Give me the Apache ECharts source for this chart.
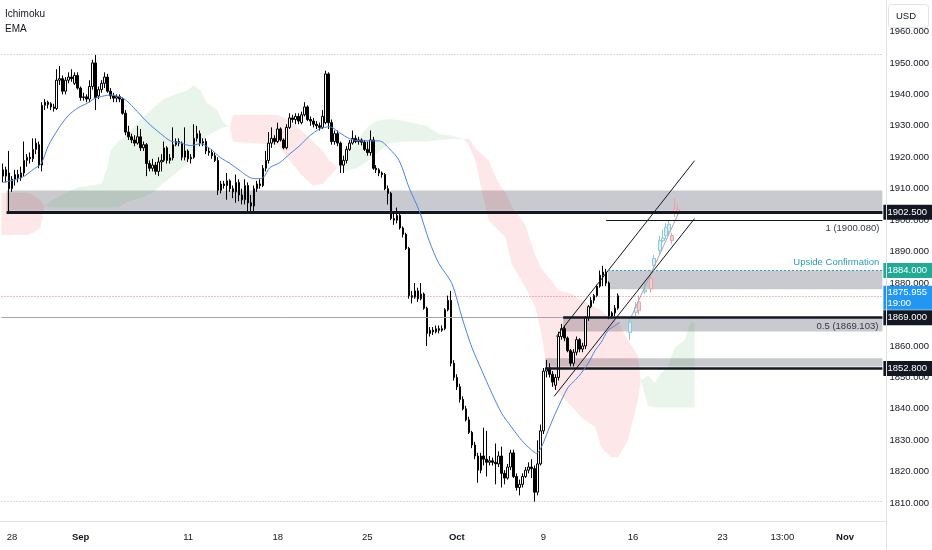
<!DOCTYPE html>
<html><head><meta charset="utf-8">
<script src="https://cdn.jsdelivr.net/npm/echarts@6/dist/echarts.min.js"></script>
<style>html,body{margin:0;padding:0;background:#fff}#c{width:932px;height:550px}</style>
</head><body><div id="c"></div>
<script>
// ---------- DATA ----------
const SLOT_COUNT = 295; // 4H bars visible across the time axis
const xLabelSlots = [3, 26, 62, 92, 122, 152, 181, 211, 241, 261, 282];
const xLabelTexts = ['28', 'Sep', '11', '18', '25', 'Oct', '9', '16', '23', '13:00', 'Nov'];
const monthLabels = ['Sep', 'Oct', 'Nov'];

// candles: [open, close, low, high]
const candles = [
[1914,1916,1912,1918],[1916,1914,1912,1917],[1915,1910,1902.4,1922],[1910,1913,1909,1914],[1913,1914.5,1911,1916],
[1914.5,1913.5,1912,1916],[1913.5,1915,1912.5,1917],[1915,1919,1914,1925],[1919,1920,1917,1921],[1920,1919.5,1918,1921.5],
[1919.5,1922.5,1918.5,1926],[1922.5,1924.5,1921,1926],[1924,1917.5,1916.5,1925],[1917.5,1936.5,1915.5,1937.5],[1936.5,1937.5,1935,1938.5],
[1937.5,1936.8,1935.5,1938],[1937,1936,1935,1937.5],[1936,1935.5,1934.5,1937],[1935.5,1944.5,1935,1948],[1944.5,1945,1943,1949],
[1945,1941,1940,1946],[1941,1944.5,1940,1945.5],[1944.5,1945.5,1943.5,1947],[1945.5,1945,1944,1948],[1943.5,1946,1943,1947],
[1946,1942,1941.5,1947],[1942,1939,1938,1942.5],[1939,1939.2,1938,1940.5],[1939.2,1938.5,1937.5,1940],[1938.5,1942.5,1937.5,1944.5],
[1942.5,1950,1941.5,1951],[1950,1939,1935,1952.5],[1939.5,1941.5,1938.5,1942.5],[1941.5,1943.5,1940.5,1944.5],[1943.5,1945.5,1942,1947],
[1945.5,1941,1940.5,1946.5],[1941,1939.5,1938.5,1942],[1939.5,1938.8,1937.5,1940.5],[1938.8,1939.3,1937.5,1940],[1939.3,1938.5,1937.5,1940],
[1938.5,1934,1933.5,1939],[1934,1928,1927,1935],[1928,1926.5,1925.5,1930],[1926.5,1925.5,1924.5,1927.5],[1925.5,1924.5,1923.5,1927],
[1924.5,1926.5,1924,1930],[1926.5,1923,1922,1929],[1923,1924,1922,1925],[1924,1918,1914,1924.5],[1918,1916.5,1915.5,1919],
[1916.5,1917.5,1915.5,1919.5],[1917.5,1915.5,1914.5,1918.5],[1915.5,1918.5,1914,1920],[1918.5,1919,1915.5,1921],[1919,1923,1918.5,1925],
[1923,1919,1918,1923.5],[1919,1919.8,1918,1921],[1919.8,1924,1919,1929.5],[1924,1925,1923.5,1926],[1925,1924.5,1923.5,1926],
[1924.5,1920,1919,1925],[1920,1922,1919,1929.5],[1922,1919.5,1918.5,1922.5],[1919.5,1920,1918,1921],[1920,1926,1919.5,1930.5],
[1926,1927.5,1925,1930],[1927.5,1924.5,1923.5,1928.5],[1924.5,1925,1923.5,1926],[1925,1922,1921,1926],[1922,1921.5,1920.5,1923],
[1921.5,1920.5,1919.5,1922.5],[1920.5,1919,1918.5,1921.5],[1919,1909.5,1908,1920],[1909.5,1911.5,1908.5,1912.5],[1911.5,1911,1910,1912.5],
[1911,1912.5,1906.5,1915],[1912.5,1910,1909,1913],[1910,1909,1907,1911],[1909,1912,1905.5,1914.5],[1912,1908,1906,1913],
[1908,1906.5,1905,1910],[1906.5,1911,1905,1913],[1911,1905.5,1902.5,1912],[1905.5,1904.5,1902.3,1908],[1904.5,1910,1902.5,1911],
[1910,1911.5,1909,1912.5],[1911.5,1911,1910,1913],[1911,1916.5,1910.5,1917.5],[1916.5,1919,1915.5,1922],[1919,1924.5,1918,1928],
[1924.5,1926,1923,1929.5],[1926,1925,1924,1927],[1925,1929,1924.5,1931],[1929,1925.5,1925,1929.5],[1925.5,1923,1922.5,1926],
[1923,1929.5,1922.5,1930.5],[1929.5,1932.5,1929,1934],[1932.5,1932,1931,1933.5],[1932,1933,1930.5,1934],[1933,1931.5,1930.5,1934],
[1931,1933.5,1930.5,1934.5],[1933.5,1936,1933,1937.5],[1936,1932,1931.5,1936.5],[1932,1931.5,1930,1933],[1931.5,1930.5,1929.5,1932.5],
[1930.5,1930,1929,1931.5],[1930,1929.5,1928.5,1931],[1929.5,1933,1929,1935],[1931,1946.5,1930.5,1947.5],[1946.5,1931,1929,1947],
[1931,1925,1924,1932],[1925,1927.5,1924,1928.5],[1927.5,1924.5,1923.5,1928.5],[1924.5,1917.5,1915,1925],[1917.5,1919,1915,1920.5],
[1919,1922.5,1918,1923.5],[1922.5,1924.5,1922,1925.5],[1924.5,1926,1924,1928.5],[1926,1925,1924.5,1927],[1925,1925.5,1924,1926.5],
[1925.5,1924.8,1923.8,1926],[1924.8,1922.5,1922,1925.5],[1922.5,1921.5,1920.5,1925],[1921.5,1925.5,1920.5,1928.5],[1925.5,1916.5,1916,1926.5],
[1916.5,1916,1915,1917.5],[1916,1915,1914,1916.5],[1915,1914.5,1913.5,1915.5],[1914.5,1910,1909.5,1915],[1910,1908.5,1905,1911],
[1908.5,1900.5,1900,1909],[1900.5,1900,1898.5,1902.5],[1900,1901.5,1899,1904],[1901.5,1897.5,1897,1902],[1897.5,1895.5,1894.5,1898],
[1895.5,1891,1890.5,1896],[1891,1876,1875,1891.5],[1876,1875.5,1873.5,1877.5],[1875.5,1877.5,1875,1880],[1877.5,1875,1874,1878.5],
[1875,1876.5,1874.5,1880],[1876.5,1872,1871.5,1877],[1872,1864,1860,1872.5],[1864,1865,1863,1866],[1865,1864.5,1863.5,1866],
[1864.5,1865.5,1864,1866.5],[1865.5,1865,1864,1866.5],[1865,1865.5,1864.5,1866.5],[1865.5,1871.5,1865,1872],[1871.5,1874.5,1871,1876],
[1874.5,1854.5,1853.5,1877.5],[1854.5,1850,1849,1855.5],[1850,1847,1846,1851],[1847,1843,1842,1848],[1843,1840,1839.5,1844],
[1840,1836.5,1836,1841],[1836.5,1832.5,1832,1837.5],[1832.5,1828.5,1827.5,1833],[1828.5,1825,1824,1829.5],[1825,1820.5,1816.5,1826],
[1820.5,1825,1819.5,1826],[1825,1824,1822,1834],[1824,1823,1818.5,1833],[1823,1823.5,1822,1825],[1823.5,1823,1822,1824.5],
[1823,1822.5,1816,1829],[1822.5,1825,1821.5,1826.5],[1825,1819.5,1815,1828],[1819.5,1818,1816,1820.5],[1818,1821.5,1817.5,1822.5],
[1821.5,1826,1820.5,1827],[1826,1818.5,1818,1827],[1818.5,1815,1814,1819.5],[1815,1816,1812.5,1817.5],[1816,1818.5,1815,1819.5],
[1818.5,1820.5,1818,1821.5],[1820.5,1821.5,1819.5,1823],[1821.5,1821,1818,1824],[1821,1813.5,1810.5,1822],[1813.5,1822.5,1812.5,1830],
[1822.5,1833,1822,1835],[1833,1852,1832,1853],[1852,1853,1850,1855.5],[1853,1851,1850,1854.5],[1851,1848.5,1847,1852],
[1847.5,1850,1846,1851],[1850,1863,1849,1864.5],[1863,1865.5,1862,1867],[1865.5,1862.5,1861.5,1866.5],[1862.5,1858.5,1858,1863],
[1858.5,1854.5,1853.5,1859],[1854.5,1858,1853.5,1859],[1858,1862,1857,1863],[1862,1859,1858,1862.5],[1859,1860,1858,1861],
[1860,1869,1859,1869.5],[1869,1872.5,1868,1873],[1872.5,1874.5,1872,1875.5],[1874.5,1876,1873.5,1876.5],[1876,1879,1875.5,1879.5],
[1879,1882.5,1878.5,1884],[1882.5,1883.5,1879,1885.5],[1883.5,1880,1879,1884.5],[1880,1869.5,1868.5,1880.5],[1869.5,1870.5,1868.8,1871],
[1870.5,1872,1869.5,1873],[1872,1875.955,1871.5,1876.7]
];

// faint projected bars (bars pattern)
const ghostSlots = [210, 212, 213, 215, 217, 218, 220, 221, 222, 223, 224, 225, 226];
const ghostCandles = [
[1864.3,1867.5,1861.8,1869],[1870.7,1872.3,1869.5,1874],[1874,1871.3,1870,1876],[1877.2,1877.8,1876.5,1881],
[1881.4,1878.2,1877,1884],[1885.6,1887.8,1884,1889],[1890.3,1893.5,1889,1895],[1893.5,1894.3,1893,1897],
[1895,1897.7,1894,1899],[1896.5,1898.7,1895.5,1900],[1895.1,1893.5,1892.5,1896],[1903.5,1902.3,1901,1907],[1903.4,1902.5,1901.5,1905]
];

// EMA: slot, value
const emaSlots = [0,6.2,10.5,12.8,15.2,18.5,21.8,25.1,28.5,30.5,33.8,36.1,40.5,43.8,48.5,52.8,56.1,59.4,62.8,66.1,69.4,72.8,76.1,79.4,82.8,85.1,87.1,89.4,92.7,96.1,99.4,102.7,106.1,109.4,112.7,116.1,119.4,126,129.4,132.7,136,139.4,142.7,146,150.3,153.7,157,160.3,163.7,167,170.3,173.7,177,178.7,180.3,182.6,185,187,189.3,191.6,193.6,196,198.3,200.3,202.6,205,206.6];
const emaValues = [1912,1913.5,1916.4,1918,1923.7,1929,1933.2,1935.7,1937.3,1938.6,1939.5,1939.8,1938.6,1935.7,1931,1927.5,1925.2,1924.6,1923.7,1924.3,1922.7,1919.9,1918,1915.7,1913.5,1913.2,1913.5,1916.7,1918.3,1921.1,1923.7,1926.8,1929,1929.7,1927.8,1925.9,1925.2,1925.2,1922.7,1918.9,1910.3,1903,1893.5,1886.2,1879.9,1869.1,1859.6,1852.3,1845,1838.6,1834.2,1830,1826.9,1825.9,1827.8,1833.2,1838.6,1842.7,1846.9,1849.1,1851.3,1854.5,1858.6,1861.1,1864.9,1866.5,1867.5];

// Ichimoku cloud segments: [slot, upper, lower]
const cloudRed1 = [[-0.5,1908.7,1895.3],[8,1908.7,1895.3],[10,1908,1896],[12.5,1906.5,1897.5],[13.5,1905,1903],[14,1904.6,1904.6]];
const cloudGreen1 = [[14,1904.6,1904.6],[16,1906.2,1904],[20.5,1908.5,1904],[25,1910.4,1904],[33,1911.6,1904],[35,1917,1904],[36,1922,1904],[38.5,1925,1904],[42,1927.5,1906],[46,1932,1907],[50.5,1935.8,1909],[54,1938.7,1912],[61.8,1941.3,1918],[63.8,1942.8,1921],[66.1,1941.3,1924],[68.4,1937.2,1927],[71.8,1935,1928.5],[73.8,1931,1929.5],[76,1929.7,1929.7]];
const cloudRed2 = [[76,1929.7,1929.7],[77,1933.5,1925],[83,1933.5,1924.5],[92,1933.5,1924],[96,1931.6,1919],[99.4,1929,1915],[103.7,1925.2,1911],[107,1922.1,1911.5],[109.4,1918.9,1914],[112,1916.7,1916.7]];
const cloudGreen2 = [[112,1916.7,1916.7],[115,1921,1915.7],[118.4,1925.2,1916.5],[121.8,1929.3,1918.5],[125,1931.6,1921],[129.4,1932.2,1924.5],[134,1931.6,1925],[137,1931,1925],[141.7,1930,1925],[146,1927.5,1925.5],[150.4,1926.8,1925.8],[154.3,1925.8,1925.8]];
const cloudRed3 = [[154.3,1925.8,1925.8],[156,1925.9,1923.7],[158.3,1922.7,1918.9],[160.3,1921.1,1909.4],[162.7,1918.9,1899.9],[166,1911.6,1896.7],[168.3,1908.8,1894.5],[170.3,1904.6,1886.2],[172.7,1901.4,1882.4],[175,1898.3,1878.6],[178.3,1888.7,1872.3],[180.3,1884.6,1864],[181.6,1883,1856.4],[183.6,1880.8,1847.5],[186,1877.6,1845],[190.3,1876.7,1841.1],[193.6,1874.5,1837.3],[198.3,1872.3,1834.2],[200.3,1871.3,1827.8],[203.6,1868.8,1824.6],[206,1867.5,1824.6],[209.3,1861.8,1830],[212.6,1857,1842.7],[213.6,1849,1849]];
const cloudGreen3 = [[213.6,1849,1849],[216,1850.7,1841.1],[218.3,1848.2,1840.4],[220.3,1851.3,1840.4],[222.6,1853.2,1840.4],[225,1859.6,1840.4],[228.3,1861.8,1840.4],[230.3,1867.5,1840.4],[231.6,1867.5,1840.4]];

// gray supply / demand zones: start slot, top, bottom
const zoneStarts = [1.2, 202.6, 187.6, 181.6];
const zoneTops = [1909.4, 1884.0, 1869.0, 1856.1];
const zoneBottoms = [1903.0, 1878.0, 1864.6, 1853.5];

// key levels
const keyLevels = [1902.5, 1869.0, 1852.8];
const keyLevelStarts = [1.2, 187.6, 181.6];
const upsideLevel = 1884.0, upsideStart = 202.6, upsideText = 'Upside Confirmation';
const fibLevels = ['1', '0.5'];
const fibPrices = [1900.080, 1869.103];
const fibStart = 202.0;
const lastPrice = 1875.955, lastTime = '19:00';
const rangeHigh = 1952.8, rangeLow = 1810.7;

// channel (slot, price) endpoints
const channelUpper = [[185.3, 1863.0], [231.6, 1918.9]];
const channelLower = [[184.6, 1844.0], [231.6, 1900.5]];
const projectionPath = [[210.3, 1869.1], [226.6, 1903.0]];

// ---------- CHART ----------
const FONT = 'Liberation Sans';
const RED_CLOUD = 'rgba(242,54,69,0.12)';
const GREEN_CLOUD = 'rgba(76,175,80,0.12)';
const HIDDEN = 'rgba(0,0,0,0)';
const clouds = [
  {pts: cloudRed1, color: RED_CLOUD}, {pts: cloudGreen1, color: GREEN_CLOUD},
  {pts: cloudRed2, color: RED_CLOUD}, {pts: cloudGreen2, color: GREEN_CLOUD},
  {pts: cloudRed3, color: RED_CLOUD}, {pts: cloudGreen3, color: GREEN_CLOUD}
];
const categories = Array.from({length: SLOT_COUNT}, (_, i) => 's' + i);
const labelMap = {};
xLabelSlots.forEach((s, k) => labelMap[s] = xLabelTexts[k]);

const ghostData = Array.from({length: 227}, () => ['-', '-', '-', '-']);
ghostSlots.forEach((s, k) => ghostData[s] = ghostCandles[k]);

const XMAX = SLOT_COUNT - 0.5;
function seg(x0, x1, p, lineStyle, label) {
  return [{coord: [x0, p], lineStyle: lineStyle, label: label || {show: false}}, {coord: [x1, p]}];
}
function tag(p, text, bg, lines) {
  return {
    yAxis: p,
    lineStyle: {color: HIDDEN, width: 1, type: 'solid'},
    label: {show: true, position: 'end', distance: 1, formatter: text, backgroundColor: bg,
      color: '#fff', padding: lines ? [1, 5, 1, 4] : [2, 5, 2, 4], fontSize: 9.5, lineHeight: 11,
      fontFamily: FONT, offset: lines ? [0, 2] : [0, 0]}
  };
}

const mlData = [
  seg(-0.5, XMAX, rangeHigh, {color: '#b2b5be', width: 1, type: [1, 2]}),
  seg(-0.5, XMAX, rangeLow, {color: '#b2b5be', width: 1, type: [1, 2]}),
  seg(-0.5, keyLevelStarts[1], fibPrices[1], {color: '#a3a6af', width: 1, type: 'solid'}),
  seg(-0.5, XMAX, lastPrice, {color: 'rgba(242,54,69,0.7)', width: 1, type: [1, 2]}),
  seg(keyLevelStarts[0], XMAX, keyLevels[0], {color: '#131722', width: 3, type: 'solid'}),
  seg(keyLevelStarts[1], XMAX, keyLevels[1], {color: '#131722', width: 2.5, type: 'solid'}),
  seg(keyLevelStarts[2], XMAX, keyLevels[2], {color: '#131722', width: 2.5, type: 'solid'}),
  seg(upsideStart, XMAX, upsideLevel, {color: '#2a9bb5', width: 1, type: [2, 2]},
    {show: true, position: 'insideEndTop', distance: 3, formatter: upsideText, color: '#2a9bb5', fontSize: 9.5, fontFamily: FONT}),
  seg(fibStart, XMAX, fibPrices[0], {color: '#131722', width: 1, type: 'solid'},
    {show: true, position: 'insideEndBottom', distance: 3, formatter: fibLevels[0] + ' (' + fibPrices[0].toFixed(3) + ')', color: '#363a45', fontSize: 9.5, fontFamily: FONT}),
  seg(fibStart, XMAX, fibPrices[1], {color: HIDDEN, width: 1, type: 'solid'},
    {show: true, position: 'insideEndBottom', distance: 4, formatter: fibLevels[1] + ' (' + fibPrices[1].toFixed(3) + ')', color: '#363a45', fontSize: 9.5, fontFamily: FONT}),
  tag(keyLevels[0], keyLevels[0].toFixed(3), '#131722'),
  tag(upsideLevel, upsideLevel.toFixed(3), '#22ab94'),
  tag(keyLevels[2], keyLevels[2].toFixed(3), '#131722'),
  tag(lastPrice, lastPrice.toFixed(3) + '\n' + lastTime, '#2196f3', true),
  tag(keyLevels[1], keyLevels[1].toFixed(3), '#131722')
];

const chart = echarts.init(document.getElementById('c'), null, {renderer: 'canvas'});
chart.setOption({
  animation: false,
  backgroundColor: '#ffffff',
  grid: {left: 0, right: 46, top: -1.01, bottom: 15.34, containLabel: false},
  xAxis: [
    {type: 'category', data: categories, boundaryGap: true, offset: -13.66,
     axisLine: {show: false}, axisTick: {show: false}, splitLine: {show: false},
     axisLabel: {interval: 0, margin: 11, fontSize: 9.5, fontFamily: FONT, color: '#131722',
       formatter: (v, idx) => {
         const t = labelMap[idx];
         if (!t) return '';
         return monthLabels.indexOf(t) >= 0 ? '{m|' + t + '}' : t;
       },
       rich: {m: {fontWeight: 'bold', fontSize: 9.5, fontFamily: FONT, color: '#131722'}}}},
    {type: 'value', min: -0.5, max: XMAX, show: false}
  ],
  yAxis: {type: 'value', position: 'right', min: 1800, max: 1970, interval: 10, scale: true,
    axisLine: {show: false}, axisTick: {show: false}, splitLine: {show: false},
    axisLabel: {margin: 7, fontSize: 9.5, fontFamily: FONT, color: '#131722',
      formatter: v => (v > 1801 && v < 1965) ? v.toFixed(3) : ''}},
  series: [
    {type: 'custom', name: 'cloud', xAxisIndex: 1, yAxisIndex: 0, z: 1, silent: true,
     data: clouds.map((c, k) => [k, 1900]),
     encode: {x: 0, y: 1},
     renderItem: (params, api) => {
       const c = clouds[api.value(0)];
       const up = c.pts.map(p => api.coord([p[0], p[1]]));
       const lo = c.pts.slice().reverse().map(p => api.coord([p[0], p[2]]));
       return {type: 'polygon', shape: {points: up.concat(lo)}, style: {fill: c.color}};
     },
     markArea: {silent: true, itemStyle: {color: 'rgba(120,123,134,0.4)'},
       data: zoneStarts.map((s, k) => [{coord: [s, zoneTops[k]]}, {coord: [XMAX, zoneBottoms[k]]}])}
    },
    {type: 'candlestick', name: 'XAUUSD', xAxisIndex: 0, yAxisIndex: 0, z: 3, barWidth: 2,
     data: candles, silent: true,
     itemStyle: {color: '#ffffff', color0: '#000000', borderColor: '#000000', borderColor0: '#000000', borderWidth: 1}},
    {type: 'candlestick', name: 'projection', xAxisIndex: 0, yAxisIndex: 0, z: 3, barWidth: 3,
     data: ghostData, silent: true,
     itemStyle: {color: '#d9f1f5', color0: '#f8d0d2', borderColor: '#8cc8d6', borderColor0: '#e9a3a8', borderWidth: 1}},
    {type: 'line', name: 'proj', xAxisIndex: 1, data: projectionPath, symbol: 'none', z: 4, silent: true,
     lineStyle: {color: '#a6a9b0', width: 1}},
    {type: 'line', name: 'chU', xAxisIndex: 1, data: channelUpper, symbol: 'none', z: 4, silent: true,
     lineStyle: {color: '#131722', width: 1}},
    {type: 'line', name: 'chL', xAxisIndex: 1, data: channelLower, symbol: 'none', z: 4, silent: true,
     lineStyle: {color: '#131722', width: 1}},
    {type: 'line', name: 'EMA', xAxisIndex: 1, yAxisIndex: 0, z: 5, silent: true, clip: false,
     data: emaSlots.map((s, k) => [s, emaValues[k]]), symbol: 'none', smooth: 0.3,
     lineStyle: {color: '#4a84e0', width: 1},
     markLine: {silent: true, symbol: ['none', 'none'], animation: false, precision: 3,
       emphasis: {disabled: true}, data: mlData}}
  ],
  graphic: [
    {type: 'line', shape: {x1: 886.5, y1: 0, x2: 886.5, y2: 550}, style: {stroke: '#e0e3eb', lineWidth: 1}, z: 50, silent: true},
    {type: 'line', shape: {x1: 0, y1: 521.5, x2: 886, y2: 521.5}, style: {stroke: '#e0e3eb', lineWidth: 1}, z: 50, silent: true},
    {type: 'rect', shape: {x: 888.5, y: 4.5, width: 40, height: 23, r: 3}, style: {fill: '#ffffff', stroke: '#e0e3eb', lineWidth: 1}, z: 100, silent: true},
    {type: 'text', x: 896, y: 16, style: {text: 'USD', fontSize: 9.5, fontFamily: FONT, fill: '#131722', verticalAlign: 'middle'}, z: 101, silent: true},
    {type: 'text', x: 5, y: 14, style: {text: 'Ichimoku', fontSize: 10, fontFamily: FONT, fill: '#131722', verticalAlign: 'middle'}, z: 101, silent: true},
    {type: 'text', x: 5, y: 29, style: {text: 'EMA', fontSize: 10, fontFamily: FONT, fill: '#131722', verticalAlign: 'middle'}, z: 101, silent: true}
  ]
});
</script>
</body></html>
